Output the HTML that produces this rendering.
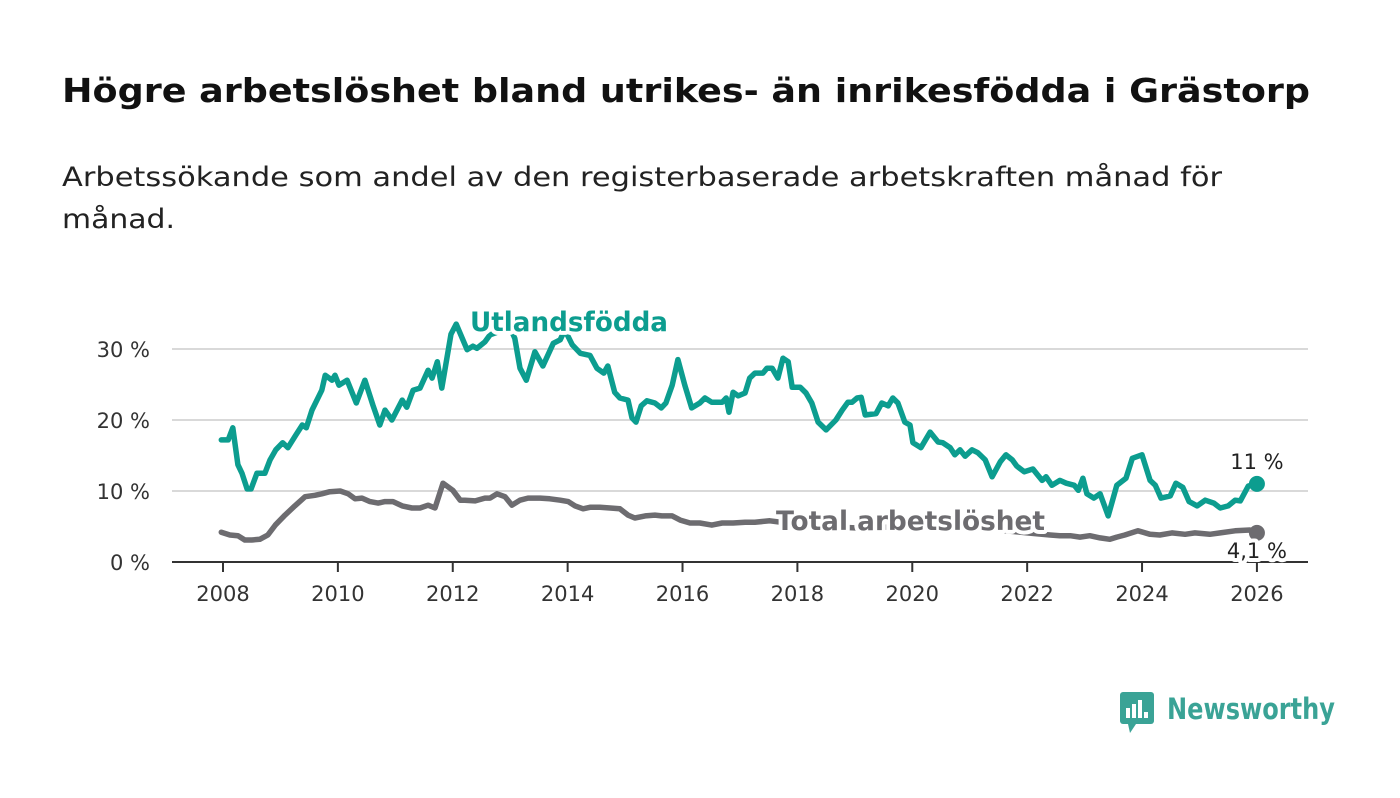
<!DOCTYPE html>
<html><head><meta charset="utf-8"><style>
body{margin:0;background:#fff;width:1400px;height:794px;overflow:hidden;font-family:"DejaVu Sans","Liberation Sans",sans-serif}
</style></head><body>
<svg id="chart" width="1400" height="794" xmlns="http://www.w3.org/2000/svg" font-family="DejaVu Sans, Liberation Sans, sans-serif">
<text x="62" y="102" font-size="33" font-weight="bold" fill="#111" textLength="1248" lengthAdjust="spacingAndGlyphs">Högre arbetslöshet bland utrikes- än inrikesfödda i Grästorp</text>
<text font-size="27" fill="#222"><tspan x="62" y="186" textLength="1160" lengthAdjust="spacingAndGlyphs">Arbetssökande som andel av den registerbaserade arbetskraften månad för</tspan><tspan x="62" y="228" textLength="113" lengthAdjust="spacingAndGlyphs">månad.</tspan></text>
<g id="grid"></g><g id="series"></g><g id="labels"></g>
<g>
<rect x="1120" y="692" width="34" height="32" rx="3" fill="#3aa396"/>
<polygon points="1128,724 1136,724 1130,733" fill="#3aa396"/>
<rect x="1126" y="708" width="4" height="10" fill="#fff"/><rect x="1132" y="704" width="4" height="14" fill="#fff"/><rect x="1138" y="700" width="4" height="18" fill="#fff"/><rect x="1144" y="712" width="4" height="6" fill="#fff"/>
<text x="1167" y="719" font-size="29" font-weight="bold" fill="#3aa396" textLength="168" lengthAdjust="spacingAndGlyphs">Newsworthy</text>
</g>
</svg>
<script>
const xTicks=[2008,2010,2012,2014,2016,2018,2020,2022,2024,2026];
const yTicks=[0,10,20,30];
const yTickLabels=["0 %","10 %","20 %","30 %"];
const utlDates=[2007.97,2008.09,2008.17,2008.26,2008.33,2008.42,2008.49,2008.59,2008.73,2008.82,2008.92,2009.04,2009.13,2009.27,2009.38,2009.45,2009.55,2009.72,2009.78,2009.90,2009.95,2010.02,2010.16,2010.32,2010.47,2010.61,2010.73,2010.82,2010.94,2011.12,2011.20,2011.31,2011.43,2011.57,2011.64,2011.73,2011.81,2011.97,2012.06,2012.25,2012.35,2012.42,2012.56,2012.65,2012.82,2013.00,2013.08,2013.17,2013.28,2013.43,2013.57,2013.75,2013.87,2013.95,2014.08,2014.22,2014.39,2014.51,2014.63,2014.70,2014.82,2014.91,2015.05,2015.12,2015.19,2015.28,2015.38,2015.52,2015.63,2015.71,2015.82,2015.92,2016.04,2016.16,2016.30,2016.39,2016.51,2016.69,2016.76,2016.81,2016.88,2016.97,2017.09,2017.17,2017.26,2017.40,2017.47,2017.56,2017.66,2017.75,2017.84,2017.91,2018.05,2018.15,2018.25,2018.36,2018.50,2018.67,2018.78,2018.88,2018.95,2019.04,2019.11,2019.18,2019.37,2019.47,2019.58,2019.66,2019.75,2019.87,2019.96,2020.01,2020.15,2020.31,2020.45,2020.53,2020.66,2020.74,2020.83,2020.92,2021.04,2021.14,2021.27,2021.39,2021.53,2021.63,2021.74,2021.82,2021.95,2022.10,2022.17,2022.26,2022.33,2022.43,2022.57,2022.68,2022.82,2022.89,2022.97,2023.04,2023.16,2023.27,2023.41,2023.56,2023.72,2023.83,2024.00,2024.14,2024.23,2024.33,2024.49,2024.59,2024.71,2024.82,2024.96,2025.10,2025.25,2025.36,2025.50,2025.62,2025.71,2025.85,2026.00];
const utlValues=[17.2,17.2,18.9,13.7,12.5,10.3,10.3,12.5,12.5,14.4,15.8,16.8,16.1,17.9,19.3,18.9,21.4,24.2,26.3,25.6,26.3,24.9,25.6,22.4,25.6,22.1,19.3,21.4,20.0,22.8,21.8,24.2,24.5,27.0,25.9,28.2,24.5,32.1,33.5,29.9,30.4,30.1,31.0,32.0,32.5,33.0,31.5,27.3,25.6,29.6,27.6,30.8,31.3,32.7,30.6,29.4,29.1,27.3,26.6,27.6,23.9,23.1,22.8,20.3,19.7,22.0,22.7,22.4,21.7,22.4,24.9,28.5,24.9,21.7,22.4,23.1,22.5,22.5,23.1,21.1,23.9,23.4,23.8,25.9,26.6,26.6,27.3,27.3,25.9,28.7,28.2,24.6,24.6,23.8,22.4,19.7,18.6,20.0,21.4,22.5,22.5,23.1,23.2,20.7,20.9,22.4,22.0,23.1,22.4,19.7,19.3,16.8,16.1,18.3,16.9,16.8,16.1,15.1,15.8,14.9,15.8,15.4,14.4,12.0,14.1,15.1,14.4,13.5,12.7,13.1,12.4,11.5,12.0,10.8,11.5,11.1,10.8,10.1,11.8,9.6,9.0,9.6,6.5,10.8,11.8,14.6,15.1,11.5,10.8,9.0,9.3,11.1,10.5,8.5,7.9,8.7,8.3,7.6,7.9,8.7,8.6,10.7,11.0];
const totDates=[2007.97,2008.12,2008.26,2008.38,2008.50,2008.64,2008.78,2008.91,2009.08,2009.25,2009.43,2009.60,2009.72,2009.86,2010.04,2010.18,2010.30,2010.42,2010.56,2010.70,2010.82,2010.96,2011.12,2011.29,2011.43,2011.57,2011.69,2011.83,2012.00,2012.13,2012.21,2012.39,2012.56,2012.65,2012.77,2012.91,2013.03,2013.17,2013.31,2013.52,2013.69,2013.87,2014.01,2014.13,2014.27,2014.39,2014.56,2014.74,2014.91,2015.05,2015.17,2015.35,2015.52,2015.64,2015.82,2015.96,2016.13,2016.30,2016.51,2016.69,2016.88,2017.09,2017.26,2017.52,2018.0,2018.5,2019.0,2019.5,2020.0,2020.4,2021.0,2021.5,2022.0,2022.40,2022.57,2022.75,2022.92,2023.09,2023.27,2023.44,2023.56,2023.70,2023.93,2024.14,2024.31,2024.52,2024.75,2024.92,2025.18,2025.36,2025.62,2025.88,2026.00];
const totValues=[4.2,3.8,3.7,3.1,3.1,3.2,3.8,5.2,6.6,7.9,9.2,9.4,9.6,9.9,10.0,9.6,8.9,9.0,8.5,8.3,8.5,8.5,7.9,7.6,7.6,8.0,7.6,11.1,10.1,8.7,8.7,8.6,9.0,9.0,9.6,9.2,8.0,8.7,9.0,9.0,8.9,8.7,8.5,7.9,7.5,7.7,7.7,7.6,7.5,6.6,6.2,6.5,6.6,6.5,6.5,5.9,5.5,5.5,5.2,5.5,5.5,5.6,5.6,5.8,5.3,5.0,4.8,4.9,5.0,5.6,5.0,4.5,4.1,3.8,3.7,3.7,3.5,3.7,3.4,3.2,3.5,3.8,4.4,3.9,3.8,4.1,3.9,4.1,3.9,4.1,4.4,4.5,4.1];
const NS="http://www.w3.org/2000/svg";
const X=y=>223+(y-2008)*57.44;
const Y=v=>562-7.1*v;
function mk(tag,attrs,parent,text){const e=document.createElementNS(NS,tag);for(const k in attrs)e.setAttribute(k,attrs[k]);if(text!==undefined)e.textContent=text;parent.appendChild(e);return e;}
const grid=document.getElementById('grid'),ser=document.getElementById('series'),lab=document.getElementById('labels');
yTicks.forEach((t,i)=>{
 if(t>0){const g=mk('line',{x1:172,x2:1308,y1:Y(t),y2:Y(t),stroke:'#d9d9d9','stroke-width':2},grid);
 
 }
 const tl=mk('text',{x:150,y:Y(t)+8,'text-anchor':'end','font-size':21,fill:'#333'},grid,yTickLabels[i]);
 
 
});
const ax=mk('line',{x1:172,x2:1308,y1:562,y2:562,stroke:'#333','stroke-width':2},grid);


xTicks.forEach(t=>{
 const tk=mk('line',{x1:X(t),x2:X(t),y1:562,y2:572,stroke:'#333','stroke-width':2},grid);
 
 
 const tl=mk('text',{x:X(t),y:601,'text-anchor':'middle','font-size':21,fill:'#333'},grid,String(t));
 
 
});
function line(d,v,color,name){
 const p=mk('path',{d:d.map((t,i)=>(i?'L':'M')+X(t).toFixed(1)+','+Y(v[i]).toFixed(1)).join(''),fill:'none',stroke:color,'stroke-width':5.5,'stroke-linejoin':'round','stroke-linecap':'round'},ser);
 
 
 const n=d.length-1;
 const c=mk('circle',{cx:X(d[n]),cy:Y(v[n]),r:8,fill:color},ser);
 
 
}
line(totDates,totValues,'#6d6c70','total');
line(utlDates,utlValues,'#0c9d8f','utlandsfodda');
const halo={stroke:'#fff','stroke-width':8,'paint-order':'stroke','stroke-linejoin':'round'};
function label(x,y,t,size,color,weight,anchor,name,len){
 const a=Object.assign({x:x,y:y,'font-size':size,fill:color,'font-weight':weight,'text-anchor':anchor},halo);
 if(len){a.textLength=len;a.lengthAdjust='spacingAndGlyphs';}
 const e=mk('text',a,lab,t);
 
 
}
label(470,331,'Utlandsfödda',27,'#0c9d8f','bold','start','utlandsfodda-label',198);
label(776,530,'Total arbetslöshet',27,'#6d6c70','bold','start','total-label',269);
label(X(2026),469,utlValues[utlValues.length-1].toLocaleString('sv-SE')+' %',21,'#222','normal','middle','utlandsfodda-end-value');
label(X(2026),558,totValues[totValues.length-1].toLocaleString('sv-SE')+' %',21,'#222','normal','middle','total-end-value');
</script>
</body></html>
